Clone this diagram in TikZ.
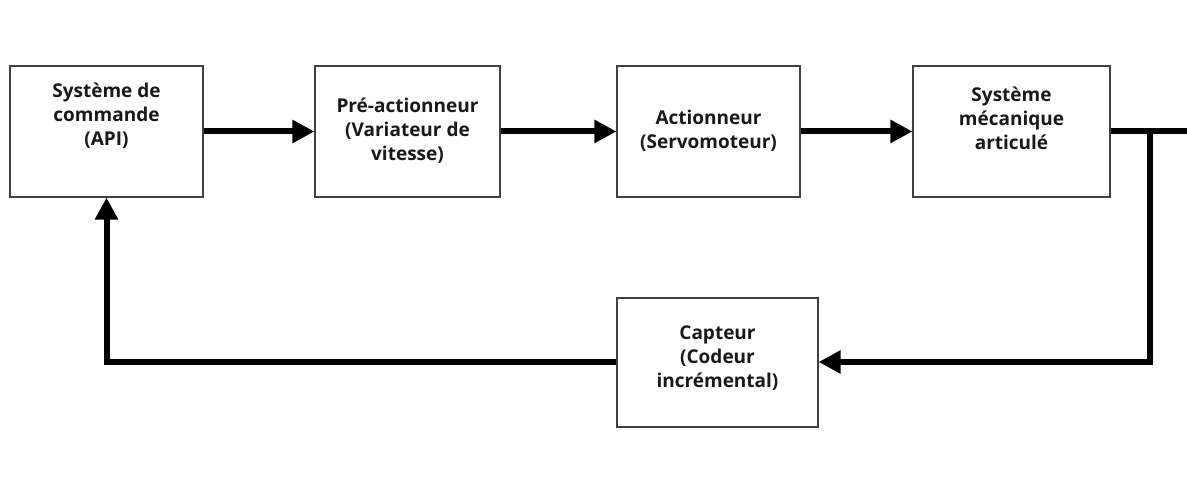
\documentclass[tikz,border=0pt]{standalone}
\usepackage{fontspec}
\setmainfont{Open Sans}
\usetikzlibrary{arrows.meta}
\begin{document}
\begin{tikzpicture}[x=1pt,y=1pt,
  blockbox/.style={draw=black!75, line width=1.1pt, fill=white, inner sep=0pt},
  lbl/.style={font=\fontsize{19}{24}\selectfont\bfseries, align=center, text=black!90},
  conn/.style={line width=6pt, line join=miter, -{Triangle[length=22pt,width=22pt]}},
  wire/.style={line width=6pt, line join=miter}]
\fill[white] (0,0) rectangle (1187,479);
\useasboundingbox (0,0) rectangle (1187,479);
\node[blockbox, minimum width=193pt, minimum height=131pt] (b1) at (106.5,347.5) {};
\node[blockbox, minimum width=185pt, minimum height=131pt] (b2) at (407.5,347.5) {};
\node[blockbox, minimum width=183pt, minimum height=131pt] (b3) at (708.5,347.5) {};
\node[blockbox, minimum width=197pt, minimum height=131pt] (b4) at (1011.5,347.5) {};
\node[blockbox, minimum width=201pt, minimum height=129pt] (b5) at (717.5,116.5) {};
\node[lbl] (t1) at (106.5,363) {Système de\\commande\\(API)};
\node[lbl] (t2) at (407.5,348) {Pré-actionneur\\(Variateur de\\vitesse)};
\node[lbl] (t3) at (708.5,348) {Actionneur\\(Servomoteur)};
\node[lbl] (t4) at (1011.5,361) {Système\\mécanique\\articulé};
\node[lbl] (t5) at (717.5,121) {Capteur\\(Codeur\\incrémental)};
\coordinate (out) at (1187,348);
\coordinate (j1) at (1150,348);
\coordinate (j2) at (1150,117);
\draw[conn] (b1.east) -- (b2.west);
\draw[conn] (b2.east) -- (b3.west);
\draw[conn] (b3.east) -- (b4.west);
\draw[wire] (b4.east |- out) -- (out);
\draw[conn] (j1) -- (j2) -- (b5.east |- j2);
\draw[conn] (b5.west |- j2) -| (b1.south);
\end{tikzpicture}
\end{document}
